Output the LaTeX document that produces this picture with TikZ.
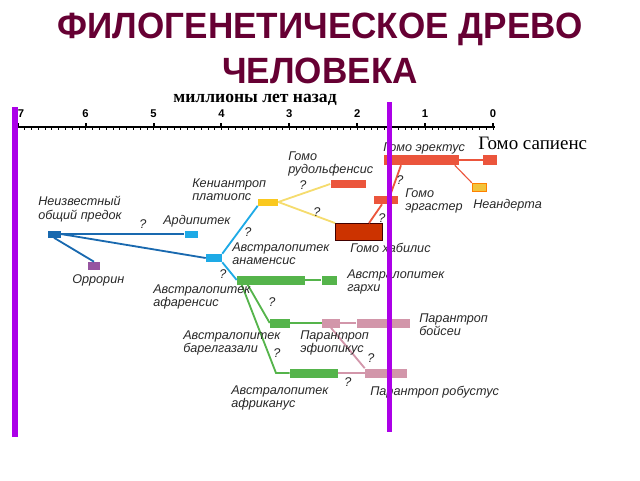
\documentclass[tikz,border=0pt]{standalone}
\usepackage{fontspec}
\setmainfont{Liberation Sans}
\newfontfamily\timesfont{Liberation Serif}
\definecolor{titlered}{RGB}{102,0,51}
\definecolor{violetline}{RGB}{172,0,232}
\definecolor{ancblue}{RGB}{25,105,175}
\definecolor{skyblue}{RGB}{30,170,230}
\definecolor{orrpurple}{RGB}{150,85,160}
\definecolor{kenyellow}{RGB}{250,200,30}
\definecolor{yellowlink}{RGB}{245,220,110}
\definecolor{homored}{RGB}{235,85,60}
\definecolor{habred}{RGB}{204,51,0}
\definecolor{neandyellow}{RGB}{242,196,60}
\definecolor{apegreen}{RGB}{85,180,75}
\definecolor{parapink}{RGB}{210,150,170}
\definecolor{labelgray}{RGB}{40,40,40}
\begin{document}
\begin{tikzpicture}[x=0.25mm, y=-0.25mm]
    \tikzstyle{every node} = [inner sep=0pt]
    \tikzstyle{bar} = [rectangle, minimum height=2.25mm]
    \tikzstyle{lbl} = [anchor=west, align=left, text=labelgray, font=\fontsize{9}{9.5}\selectfont\itshape]
    \tikzstyle{qmark} = [text=labelgray, font=\fontsize{9}{10}\selectfont\itshape]
    \tikzstyle{link} = [line width=1.3pt]
    \tikzstyle{thin link} = [line width=0.8pt]
    \tikzstyle{heading} = [text=titlered, font=\fontsize{26}{28}\selectfont\bfseries]
    \tikzstyle{ticklbl} = [font=\fontsize{8}{9}\selectfont\bfseries]
    \useasboundingbox (0,0) rectangle (640,480);

    \node[heading] (title1) at (320,29) {\scalebox{0.96}[1]{ФИЛОГЕНЕТИЧЕСКОЕ ДРЕВО}};
    \node[heading] (title2) at (320,71) {\scalebox{0.96}[1]{ЧЕЛОВЕКА}};

    % time axis
    \node[font=\fontsize{12.5}{14}\selectfont\timesfont\bfseries] (axislabel) at (255,100) {миллионы лет назад};
    \draw[line width=0.7mm] (18,127) -- (495,127);
    \foreach \m in {0,...,70}
        \draw[line width=0.3pt] (493-6.79*\m,127) -- ++(0,3);
    \foreach \t in {0,...,6} {
        \draw[line width=0.5mm] (493-67.9*\t,127) -- ++(0,-4);
        \node[ticklbl] (tick\t) at (493-67.9*\t,114) {\t};
    }
    \draw[line width=0.5mm] (18,127) -- ++(0,-4);
    \node[ticklbl] (tick7) at (21,114) {7};

    % species
    \node[bar, fill=ancblue, minimum width=3.25mm, minimum height=1.75mm] (ancestor) at (54,234) {};
    \node[bar, fill=skyblue, minimum width=3.25mm, minimum height=1.75mm] (ardi) at (191,234) {};
    \node[bar, fill=orrpurple, minimum width=3mm, minimum height=2mm] (orrorin) at (94,266) {};
    \node[bar, fill=skyblue, minimum width=4mm, minimum height=2mm] (anam) at (214,258) {};
    \node[bar, fill=kenyellow, minimum width=5mm, minimum height=1.75mm] (kenya) at (268,202) {};
    \node[bar, fill=homored, minimum width=8.75mm, minimum height=2mm] (rudolf) at (348,184) {};
    \node[bar, fill=habred, draw=black!75!red, line width=0.6pt, minimum width=11.75mm, minimum height=4.25mm] (habilis) at (359,232) {};
    \node[bar, fill=homored, minimum width=6mm, minimum height=2mm] (ergaster) at (386,200) {};
    \node[bar, fill=homored, minimum width=18.75mm, minimum height=2.5mm] (erectus) at (421,160) {};
    \node[bar, fill=homored, minimum width=3.5mm, minimum height=2.5mm] (sapiens) at (490,160) {};
    \node[bar, fill=neandyellow, draw=orange, line width=0.3pt, minimum width=3.5mm, minimum height=2mm] (neand) at (479,187) {};
    \node[bar, fill=apegreen, minimum width=17mm] (afar) at (271,280) {};
    \node[bar, fill=apegreen, minimum width=3.75mm] (garhi) at (329,280) {};
    \node[bar, fill=apegreen, minimum width=5mm] (bahr) at (280,323) {};
    \node[bar, fill=parapink, minimum width=4.5mm] (aeth) at (331,323) {};
    \node[bar, fill=parapink, minimum width=13.25mm] (boisei) at (383,323) {};
    \node[bar, fill=apegreen, minimum width=12mm] (afric) at (314,373) {};
    \node[bar, fill=parapink, minimum width=10.5mm] (robust) at (386,373) {};
    \coordinate (bend) at (276,373);

    % links
    \draw[link, ancblue] (ancestor.east) -- (ardi.west);
    \draw[link, ancblue] (ancestor.south) -- (orrorin.north);
    \draw[link, ancblue] (ancestor.east) -- (anam.west);
    \draw[link, skyblue] (anam.north east) -- (kenya.south west);
    \draw[link, skyblue] (anam.south east) -- (afar.west);
    \draw[link, yellowlink] (kenya.east) -- (rudolf.west);
    \draw[link, yellowlink] (kenya.east) -- (habilis.north west);
    \draw[link, homored] ([xshift=2.5mm]habilis.north) -- ([xshift=-1mm]ergaster.south);
    \draw[link, homored] ([xshift=1mm]ergaster.north) -- ([xshift=-5mm]erectus.south);
    \draw[thin link, homored] (erectus.east) -- (sapiens.west);
    \draw[thin link, homored] ([xshift=-1mm]erectus.south east) -- (neand.north west);
    \draw[thin link, apegreen] (afar.east) -- (garhi.west);
    \draw[link, apegreen] ([xshift=2.75mm]afar.south west) -- (bahr.west);
    \draw[link, apegreen] ([xshift=1.25mm]afar.south west) -- (bend) -- (afric.west);
    \draw[thin link, apegreen] (bahr.east) -- (aeth.west);
    \draw[thin link, parapink] (aeth.east) -- (boisei.west);
    \draw[thin link, parapink] (afric.east) -- (robust.west);
    \draw[link, parapink] (aeth.south) -- (robust.north west);

    % names
    \node[lbl] (ancestorlbl) at (38,209) {Неизвестный\\общий предок};
    \node[lbl] (ardilbl) at (163,221) {Ардипитек};
    \node[lbl] (orrorinlbl) at (72,280) {Оррорин};
    \node[lbl] (anamlbl) at (232,254) {Австралопитек\\анаменсис};
    \node[lbl] (kenyalbl) at (192,190) {Кениантроп\\платиопс};
    \node[lbl] (rudolflbl) at (288,164) {Гомо\\рудольфенсис};
    \node[lbl] (habilislbl) at (350,248) {Гомо хабилис};
    \node[lbl] (ergasterlbl) at (405,201) {Гомо\\эргастер};
    \node[lbl] (erectuslbl) at (383,148) {Гомо эректус};
    \node[lbl] (neandlbl) at (473,205) {Неандерта};
    \node[anchor=west, font=\fontsize{13.5}{15}\selectfont\timesfont] (sapienslbl) at (478,143) {Гомо сапиенс};
    \node[lbl] (afarlbl) at (153,297) {Австралопитек\\афаренсис};
    \node[lbl] (garhilbl) at (347,282) {Австралопитек\\гархи};
    \node[lbl] (bahrlbl) at (183,343) {Австралопитек\\барелгазали};
    \node[lbl] (aethlbl) at (300,343) {Парантроп\\эфиопикус};
    \node[lbl] (boiseilbl) at (419,325) {Парантроп\\бойсеи};
    \node[lbl] (africlbl) at (231,398) {Австралопитек\\африканус};
    \node[lbl] (robustlbl) at (370,392) {Парантроп робустус};

    \node[qmark] (q1) at (143,224) {?};
    \node[qmark] (q2) at (248,232) {?};
    \node[qmark] (q3) at (223,274) {?};
    \node[qmark] (q4) at (272,302) {?};
    \node[qmark] (q5) at (303,185) {?};
    \node[qmark] (q6) at (317,212) {?};
    \node[qmark] (q7) at (382,218) {?};
    \node[qmark] (q8) at (400,180) {?};
    \node[qmark] (q9) at (277,353) {?};
    \node[qmark] (q10) at (371,358) {?};
    \node[qmark] (q11) at (348,382) {?};

    % time markers
    \draw[violetline, line width=1.5mm] (15,107) -- (15,437);
    \draw[violetline, line width=1.25mm] (389,102) -- (389,432);
\end{tikzpicture}
\end{document}
